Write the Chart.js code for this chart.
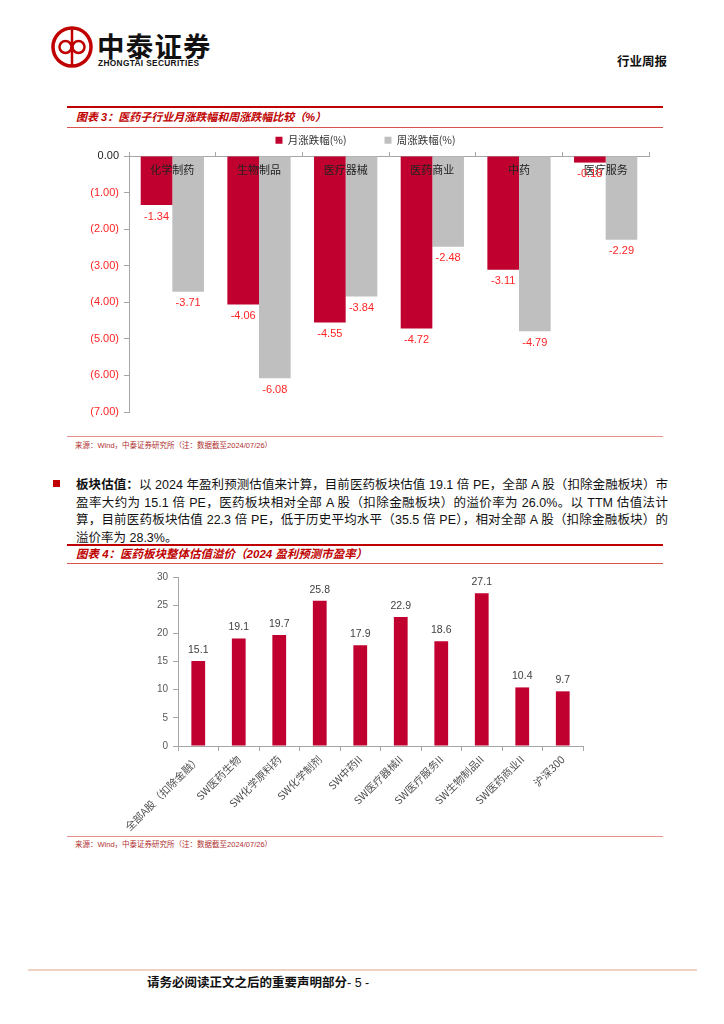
<!DOCTYPE html>
<html><head><meta charset="utf-8">
<script src="https://cdn.jsdelivr.net/npm/chart.js@4.4.1/dist/chart.umd.min.js"></script>
<style>
html,body{margin:0;padding:0;background:#fff;}
body{width:724px;height:1024px;position:relative;overflow:hidden;font-family:"Liberation Sans","Noto Sans CJK SC",sans-serif;color:#1a1a1a;}
.a{position:absolute;white-space:nowrap;}
.thick{position:absolute;left:67px;width:596px;height:2px;background:#C00000;}
.thin{position:absolute;left:67px;width:596px;height:1px;background:#D9534F;}
.src{position:absolute;left:67px;width:596px;height:1px;background:#E8908A;}
.title{position:absolute;left:76px;font-size:11px;line-height:14px;font-weight:bold;font-style:italic;color:#C00000;white-space:nowrap;}
.srctxt{position:absolute;left:75px;font-size:7.5px;line-height:10px;color:#B03030;white-space:nowrap;}
.pl{position:absolute;left:76px;width:592px;font-size:12.5px;line-height:16px;text-align:justify;text-align-last:justify;white-space:nowrap;color:#111;}
canvas{position:absolute;}
</style></head>
<body>
<svg class="a" style="left:50px;top:25px" width="46" height="46" viewBox="0 0 46 46">
  <circle cx="22" cy="22" r="19" fill="none" stroke="#C00000" stroke-width="3.5"/>
  <line x1="22" y1="3" x2="22" y2="41" stroke="#C00000" stroke-width="2.5"/>
  <circle cx="15.5" cy="22" r="6" fill="none" stroke="#C00000" stroke-width="2.5"/>
  <circle cx="28.5" cy="22" r="6" fill="none" stroke="#C00000" stroke-width="2.5"/>
</svg>
<div class="a" style="left:97px;top:29px;font-size:27.5px;line-height:32px;font-weight:bold;letter-spacing:1.2px;font-family:'Noto Sans CJK SC';color:#111;">中泰证券</div>
<div class="a" style="left:98px;top:58px;font-size:8.3px;line-height:10px;font-weight:bold;letter-spacing:0.35px;color:#111;">ZHONGTAI SECURITIES</div>
<div class="a" style="left:617px;top:53px;font-size:12.5px;line-height:16px;font-weight:bold;font-family:'Noto Sans CJK SC';color:#111;">行业周报</div>

<div class="thick" style="top:106px;"></div>
<div class="title" style="top:110px;">图表 3：医药子行业月涨跌幅和周涨跌幅比较（%）</div>
<div class="thin" style="top:127px;"></div>
<canvas id="c3" width="614" height="331" style="left:60px;top:97px;"></canvas>
<div class="src" style="top:436px;"></div>
<div class="srctxt" style="top:441px;">来源：Wind，中泰证券研究所（注：数据截至2024/07/26）</div>

<div class="a" style="left:53px;top:480px;width:7px;height:7px;background:#C00000;"></div>
<div class="pl" style="top:477px;"><b>板块估值：</b>以 2024 年盈利预测估值来计算，目前医药板块估值 19.1 倍 PE，全部 A 股（扣除金融板块）市</div>
<div class="pl" style="top:494.5px;">盈率大约为 15.1 倍 PE，医药板块相对全部 A 股（扣除金融板块）的溢价率为 26.0%。以 TTM 估值法计</div>
<div class="pl" style="top:512px;">算，目前医药板块估值 22.3 倍 PE，低于历史平均水平（35.5 倍 PE），相对全部 A 股（扣除金融板块）的</div>
<div class="pl" style="top:529.5px;text-align-last:left;">溢价率为 28.3%。</div>

<div class="thick" style="top:544px;"></div>
<div class="title" style="top:546.5px;font-size:11.5px;">图表 4：医药板块整体估值溢价（2024 盈利预测市盈率）</div>
<div class="thin" style="top:563px;"></div>
<canvas id="c4" width="540" height="270" style="left:60px;top:565px;"></canvas>
<div class="src" style="top:836px;"></div>
<div class="srctxt" style="top:840px;">来源：Wind，中泰证券研究所（注：数据截至2024/07/26）</div>

<div class="a" style="left:28px;top:969px;width:669px;height:2px;background:#EED3C2;"></div>
<div class="a" style="left:147px;top:974px;font-size:12.5px;line-height:16px;color:#111;"><b style="font-family:'Noto Sans CJK SC'">请务必阅读正文之后的重要声明部分</b>- 5 -</div>

<script>
// ---- Chart 3 data ----
const subIndustries = ['化学制药','生物制品','医疗器械','医药商业','中药','医疗服务'];
const seriesNames = ['月涨跌幅(%)','周涨跌幅(%)'];
const monthlyChange = [-1.34,-4.06,-4.55,-4.72,-3.11,-0.18];
const weeklyChange = [-3.71,-6.08,-3.84,-2.48,-4.79,-2.29];
const changeAxisMin = -7, changeAxisMax = 0, changeAxisStep = 1;

// ---- Chart 4 data ----
const valuationLabels = ['全部A股（扣除金融）','SW医药生物','SW化学原料药','SW化学制剂','SW中药II','SW医疗器械II','SW医疗服务II','SW生物制品II','SW医药商业II','沪深300'];
const peValues = [15.1,19.1,19.7,25.8,17.9,22.9,18.6,27.1,10.4,9.7];
const peAxisMin = 0, peAxisMax = 30, peAxisStep = 5;

const RED = '#C0002E', GRAY = '#BFBFBF', AXIS = '#A6A6A6', NEG_TXT = '#FF2424';
const CJK = '"Noto Sans CJK SC", sans-serif';
const LAT = '"Liberation Sans", Arial, sans-serif';
Chart.defaults.font.family = LAT;

const legendHeightPlugin = {
  id: 'legendHeight',
  beforeInit(chart, args, opts) {
    const lg = chart.legend;
    if (!lg) return;
    const fit = lg.fit;
    lg.fit = function () { fit.call(this); this.height = opts.h; };
  }
};

const labels3Plugin = {
  id: 'labels3',
  afterDatasetsDraw(chart) {
    const ctx = chart.ctx, xs = chart.scales.x, ys = chart.scales.y;
    ctx.save();
    ctx.textAlign = 'center'; ctx.textBaseline = 'middle';
    ctx.font = '11px ' + CJK; ctx.fillStyle = '#222';
    subIndustries.forEach((c, i) => ctx.fillText(c, xs.getPixelForValue(i), ys.getPixelForValue(0) + 14));
    ctx.font = '11px ' + LAT; ctx.fillStyle = NEG_TXT;
    chart.data.datasets.forEach((ds, di) => {
      chart.getDatasetMeta(di).data.forEach((bar, i) => {
        ctx.fillText(ds.data[i].toFixed(2), bar.x, bar.y + 11.5);
      });
    });
    ctx.restore();
  }
};

const labels4Plugin = {
  id: 'labels4',
  afterDatasetsDraw(chart) {
    const ctx = chart.ctx;
    ctx.save();
    ctx.textAlign = 'center'; ctx.textBaseline = 'middle';
    ctx.font = '10.5px ' + LAT; ctx.fillStyle = '#404040';
    chart.data.datasets.forEach((ds, di) => {
      chart.getDatasetMeta(di).data.forEach((bar, i) => {
        ctx.fillText(ds.data[i].toFixed(1), bar.x, bar.y - 11);
      });
    });
    ctx.restore();
  }
};

new Chart(document.getElementById('c3'), {
  type: 'bar',
  data: {
    labels: subIndustries,
    datasets: [
      { label: seriesNames[0], data: monthlyChange, backgroundColor: RED, categoryPercentage: 0.73, barPercentage: 1 },
      { label: seriesNames[1], data: weeklyChange, backgroundColor: GRAY, categoryPercentage: 0.73, barPercentage: 1 }
    ]
  },
  options: {
    responsive: false, animation: false,
    layout: { padding: { left: 22, right: 25, top: 0, bottom: 16 } },
    plugins: {
      legend: { display: true, position: 'top',
        labels: { boxWidth: 7, boxHeight: 7, padding: 38, color: '#333', font: { size: 10.5, family: CJK } } },
      tooltip: { enabled: false },
      legendHeight: { h: 59 }
    },
    scales: {
      x: {
        position: 'top',
        grid: { display: true, drawOnChartArea: false, drawTicks: true, tickLength: 4, color: AXIS, offset: true },
        border: { color: AXIS },
        ticks: { display: false },
        afterFit(s) { s.height = 0; }
      },
      y: {
        min: changeAxisMin, max: changeAxisMax,
        ticks: { stepSize: changeAxisStep, padding: 5, font: { size: 11 },
          color: (c) => (c.tick && c.tick.value < 0 ? NEG_TXT : '#222'),
          callback: (v) => (v === 0 ? '0.00' : '(' + Math.abs(v).toFixed(2) + ')') },
        grid: { drawOnChartArea: false, tickLength: 5, color: AXIS },
        border: { color: AXIS },
        afterFit(s) { s.width = 47; }
      }
    }
  },
  plugins: [legendHeightPlugin, labels3Plugin]
});

new Chart(document.getElementById('c4'), {
  type: 'bar',
  data: {
    labels: valuationLabels,
    datasets: [{ label: '市盈率', data: peValues, backgroundColor: RED, categoryPercentage: 0.34, barPercentage: 1 }]
  },
  options: {
    responsive: false, animation: false,
    layout: { padding: { left: 0, right: 17, top: 12, bottom: 0 } },
    plugins: { legend: { display: false }, tooltip: { enabled: false } },
    scales: {
      x: {
        grid: { drawOnChartArea: false, offset: true, tickLength: 5, color: AXIS },
        border: { color: AXIS },
        ticks: { minRotation: 45, maxRotation: 45, autoSkip: false, padding: 2, color: '#505050', font: { size: 10.5, family: CJK } },
        afterFit(s) { s.height = 89; }
      },
      y: {
        min: peAxisMin, max: peAxisMax,
        ticks: { stepSize: peAxisStep, padding: 5, color: '#595959', font: { size: 10 } },
        grid: { drawOnChartArea: false, tickLength: 5, color: AXIS },
        border: { color: AXIS },
        afterFit(s) { s.width = 118; }
      }
    }
  },
  plugins: [labels4Plugin]
});
</script>
</body></html>
